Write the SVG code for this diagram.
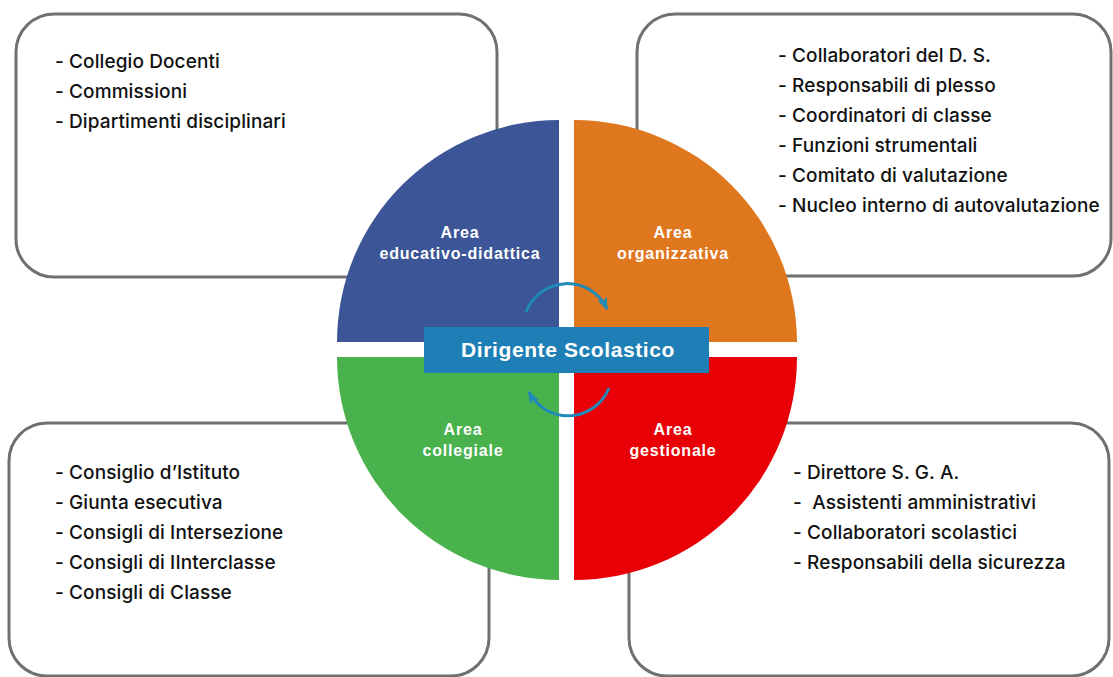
<svg xmlns="http://www.w3.org/2000/svg" width="1113" height="677" viewBox="0 0 1113 677">
<style>
.box{fill:#fff;stroke:#707070;stroke-width:3}
.item{font-family:Inter,"Noto Sans",sans-serif;font-size:19px;font-weight:500;fill:#111;letter-spacing:0.1px}
.lbl{font-family:"Liberation Sans",Arial,sans-serif;font-weight:bold;font-size:16px;fill:#fff;text-anchor:middle;letter-spacing:0.8px}
.ds{font-family:"Liberation Sans",Arial,sans-serif;font-weight:bold;font-size:21px;fill:#fff;text-anchor:middle;letter-spacing:0.6px}
.arc{fill:none;stroke:#1f8ab8;stroke-width:3}
</style>
<defs>
<marker id="ah" viewBox="0 0 10 8" refX="9" refY="4" markerWidth="4.2" markerHeight="3.4" orient="auto" markerUnits="strokeWidth">
<path d="M0,0 L10,4 L0,8 L2,4 z" fill="#1f8ab8"/>
</marker>
</defs>
<g id="box-educativo">
<rect class="box" x="16" y="14" width="481" height="263" rx="38"/>
<text class="item" x="55" y="68">- Collegio Docenti</text>
<text class="item" x="55" y="98">- Commissioni</text>
<text class="item" x="55" y="128">- Dipartimenti disciplinari</text>
</g>
<g id="box-organizzativa">
<rect class="box" x="637" y="14" width="474" height="262" rx="38"/>
<text class="item" x="778" y="62">- Collaboratori del D. S.</text>
<text class="item" x="778" y="92">- Responsabili di plesso</text>
<text class="item" x="778" y="122">- Coordinatori di classe</text>
<text class="item" x="778" y="152">- Funzioni strumentali</text>
<text class="item" x="778" y="182">- Comitato di valutazione</text>
<text class="item" x="778" y="212">- Nucleo interno di autovalutazione</text>
</g>
<g id="box-collegiale">
<rect class="box" x="9" y="423" width="480" height="253" rx="38"/>
<text class="item" x="55" y="479">- Consiglio d’Istituto</text>
<text class="item" x="55" y="509">- Giunta esecutiva</text>
<text class="item" x="55" y="539">- Consigli di Intersezione</text>
<text class="item" x="55" y="569">- Consigli di IInterclasse</text>
<text class="item" x="55" y="599">- Consigli di Classe</text>
</g>
<g id="box-gestionale">
<rect class="box" x="629" y="423" width="480" height="253" rx="38"/>
<text class="item" x="793" y="479">- Direttore S. G. A.</text>
<text class="item" x="793" y="509" xml:space="preserve">-  Assistenti amministrativi</text>
<text class="item" x="793" y="539">- Collaboratori scolastici</text>
<text class="item" x="793" y="569">- Responsabili della sicurezza</text>
</g>
<g id="area-educativo">
<path d="M559,342 L337,342 A222,222 0 0 1 559,120 Z" fill="#3b5597"/>
<text class="lbl" x="460" y="238">Area</text>
<text class="lbl" x="460" y="259">educativo-didattica</text>
</g>
<g id="area-organizzativa">
<path d="M574,342 L574,120 A223,223 0 0 1 797,342 Z" fill="#df771f"/>
<text class="lbl" x="673" y="238">Area</text>
<text class="lbl" x="673" y="259">organizzativa</text>
</g>
<g id="area-collegiale">
<path d="M559,357 L559,580 A223,223 0 0 1 337,357 Z" fill="#49b24d"/>
<text class="lbl" x="463" y="435">Area</text>
<text class="lbl" x="463" y="456">collegiale</text>
</g>
<g id="area-gestionale">
<path d="M574,357 L797,357 A223,223 0 0 1 574,580 Z" fill="#e80006"/>
<text class="lbl" x="673" y="435">Area</text>
<text class="lbl" x="673" y="456">gestionale</text>
</g>
<g id="connectors">
<path class="arc" d="M526,312 A44,44 0 0 1 607,309" marker-end="url(#ah)"/>
<path class="arc" d="M609,388 A44,44 0 0 1 529,392" marker-end="url(#ah)"/>
</g>
<g id="dirigente">
<rect x="424" y="327" width="285" height="46" fill="#1d7fb5"/>
<text class="ds" x="568" y="357">Dirigente Scolastico</text>
</g>
</svg>
